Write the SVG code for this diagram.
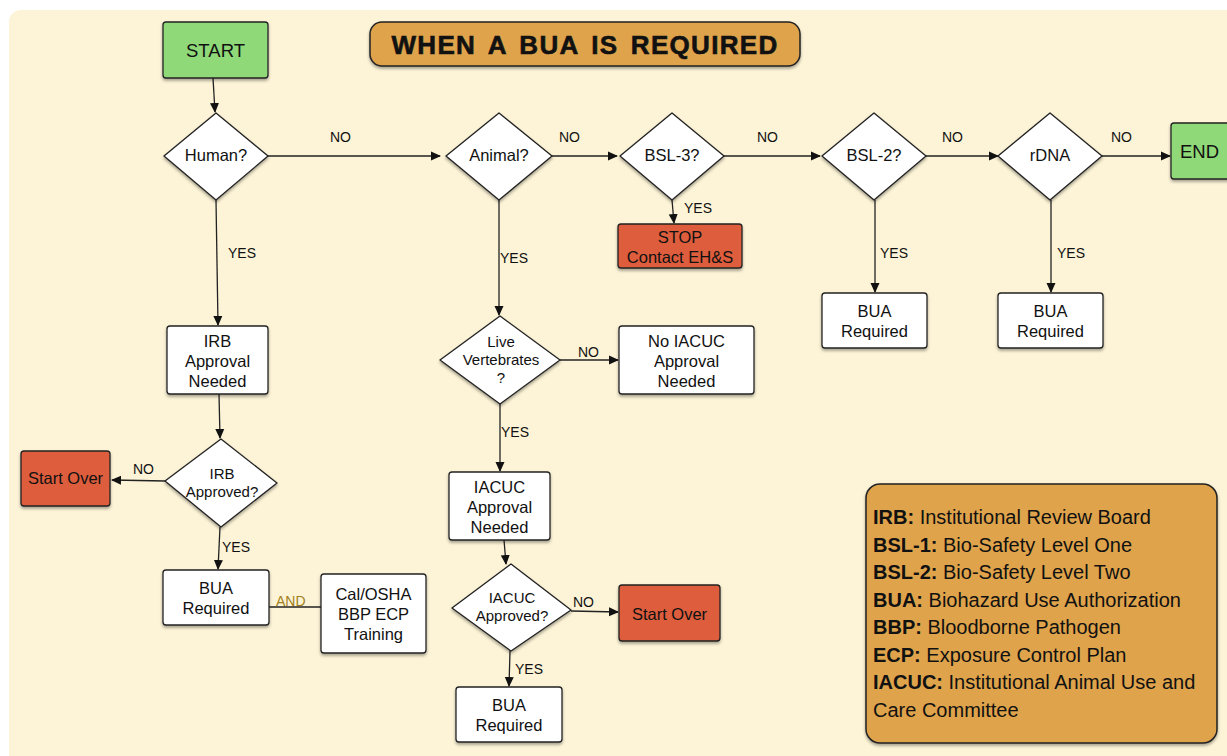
<svg xmlns="http://www.w3.org/2000/svg" width="1227" height="756" viewBox="0 0 1227 756">
<defs>
<marker id="ah" markerWidth="10" markerHeight="10" refX="9" refY="5" orient="auto" markerUnits="userSpaceOnUse">
<path d="M0,0.5 L10,5 L0,9.5 Z" fill="#111"/>
</marker>
<filter id="sh" x="-20%" y="-20%" width="140%" height="150%">
<feDropShadow dx="0" dy="2" stdDeviation="1.8" flood-color="#000" flood-opacity="0.35"/>
</filter>
</defs>
<style>
text{font-family:"Liberation Sans",Arial,sans-serif;fill:#111;}
.n{font-size:16.5px;text-anchor:middle;}
.s{font-size:15px;text-anchor:middle;}
.l{font-size:14px;}
.box{fill:#fff;stroke:#222;stroke-width:1.3;filter:url(#sh);}
.red{fill:#dd5d3d;stroke:#222;stroke-width:1.3;filter:url(#sh);}
.grn{fill:#8fd978;stroke:#222;stroke-width:1.3;filter:url(#sh);}
.org{fill:#dfa34b;stroke:#222;stroke-width:1.5;filter:url(#sh);}
.c{fill:none;stroke:#222;stroke-width:1.3;}
.lg{font-size:20px;}
.lg tspan.b{font-weight:bold;}
</style>
<rect x="0" y="0" width="1227" height="756" fill="#fff"/>
<rect x="9" y="10" width="1240" height="770" rx="12" fill="#fdf4d7"/>

<g id="title"><rect class="org" x="370" y="22" width="430" height="44" rx="12"/><text x="585" y="54" text-anchor="middle" font-weight="bold" font-size="26" letter-spacing="1.3" word-spacing="4" stroke="#111" stroke-width="0.6">WHEN A BUA IS REQUIRED</text></g>

<g id="connectors">
<path class="c" d="M213,78 L215,112" marker-end="url(#ah)"/>
<path class="c" d="M268,156 L440,156" marker-end="url(#ah)"/>
<path class="c" d="M552,156 L617,156" marker-end="url(#ah)"/>
<path class="c" d="M724,156 L820,156" marker-end="url(#ah)"/>
<path class="c" d="M926,156 L998,156" marker-end="url(#ah)"/>
<path class="c" d="M1102,156 L1170,156" marker-end="url(#ah)"/>
<path class="c" d="M672,200 L674,223" marker-end="url(#ah)"/>
<path class="c" d="M875,200 L875,292" marker-end="url(#ah)"/>
<path class="c" d="M1051,200 L1051,292" marker-end="url(#ah)"/>
<path class="c" d="M216,200 L218,325" marker-end="url(#ah)"/>
<path class="c" d="M219,394 L220,438" marker-end="url(#ah)"/>
<path class="c" d="M165,481 L112,480" marker-end="url(#ah)"/>
<path class="c" d="M220,527 L218,569" marker-end="url(#ah)"/>
<path class="c" d="M269,607 L321,607"/>
<path class="c" d="M499,200 L499,315" marker-end="url(#ah)"/>
<path class="c" d="M560,360 L618,360" marker-end="url(#ah)"/>
<path class="c" d="M500,404 L500,471" marker-end="url(#ah)"/>
<path class="c" d="M504,540 L506,564" marker-end="url(#ah)"/>
<path class="c" d="M571,611 L618,612" marker-end="url(#ah)"/>
<path class="c" d="M510,651 L509,686" marker-end="url(#ah)"/>
<text class="l" x="330" y="142">NO</text>
<text class="l" x="559" y="142">NO</text>
<text class="l" x="757" y="142">NO</text>
<text class="l" x="942" y="142">NO</text>
<text class="l" x="1111" y="142">NO</text>
<text class="l" x="684" y="213">YES</text>
<text class="l" x="880" y="258">YES</text>
<text class="l" x="1057" y="258">YES</text>
<text class="l" x="228" y="258">YES</text>
<text class="l" x="500" y="263">YES</text>
<text class="l" x="133" y="474">NO</text>
<text class="l" x="222" y="552">YES</text>
<text class="l" x="276" y="606" style="fill:#a07f1c">AND</text>
<text class="l" x="578" y="357">NO</text>
<text class="l" x="501" y="437">YES</text>
<text class="l" x="573" y="607">NO</text>
<text class="l" x="515" y="674">YES</text>
</g>

<g id="start"><rect class="grn" x="163" y="22" width="105" height="56" rx="3"/><text x="215.5" y="57" text-anchor="middle" font-size="18.5">START</text></g>
<g id="end"><rect class="grn" x="1171" y="123" width="80" height="56" rx="3"/><text x="1180" y="158" font-size="18.5">END</text></g>

<g id="human"><path class="box" d="M216,113 L268,156 L216,200 L164,156 Z" stroke-linejoin="round"/><text class="n" x="216" y="161">Human?</text></g>
<g id="animal"><path class="box" d="M499,113 L552,156 L499,200 L446,156 Z" stroke-linejoin="round"/><text class="n" x="499" y="161">Animal?</text></g>
<g id="bsl3"><path class="box" d="M672,113 L724,156 L672,200 L620,156 Z" stroke-linejoin="round"/><text class="n" x="672" y="161">BSL-3?</text></g>
<g id="bsl2"><path class="box" d="M874,113 L926,156 L874,200 L822,156 Z" stroke-linejoin="round"/><text class="n" x="874" y="161">BSL-2?</text></g>
<g id="rdna"><path class="box" d="M1050,113 L1102,156 L1050,200 L998,156 Z" stroke-linejoin="round"/><text class="n" x="1050" y="161">rDNA</text></g>

<g id="stop"><rect class="red" x="618" y="224" width="124" height="44" rx="3"/><text class="n" x="680" y="243">STOP</text><text class="n" x="680" y="263">Contact EH&amp;S</text></g>
<g id="bua2"><rect class="box" x="822" y="293" width="105" height="55" rx="3"/><text class="n" x="874.5" y="317">BUA</text><text class="n" x="874.5" y="337">Required</text></g>
<g id="bua3"><rect class="box" x="998" y="293" width="105" height="55" rx="3"/><text class="n" x="1050.5" y="317">BUA</text><text class="n" x="1050.5" y="337">Required</text></g>

<g id="irbneeded"><rect class="box" x="167" y="326" width="101" height="68" rx="3"/><text class="n" x="217.5" y="347">IRB</text><text class="n" x="217.5" y="367">Approval</text><text class="n" x="217.5" y="387">Needed</text></g>
<g id="irbapproved"><path class="box" d="M221,439 L277,483 L221,527 L165,481 Z" stroke-linejoin="round"/><text class="s" x="222" y="479">IRB</text><text class="s" x="222" y="497">Approved?</text></g>
<g id="startover1"><rect class="red" x="21" y="451" width="89" height="55" rx="3"/><text class="n" x="65.5" y="484">Start Over</text></g>
<g id="bua1"><rect class="box" x="163" y="570" width="106" height="55" rx="3"/><text class="n" x="216" y="594">BUA</text><text class="n" x="216" y="614">Required</text></g>
<g id="calosha"><rect class="box" x="321" y="574" width="105" height="79" rx="3"/><text class="n" x="373.5" y="600">Cal/OSHA</text><text class="n" x="373.5" y="620">BBP ECP</text><text class="n" x="373.5" y="640">Training</text></g>

<g id="live"><path class="box" d="M500,316 L560,360 L500,404 L440,360 Z" stroke-linejoin="round"/><text class="s" x="501" y="347">Live</text><text class="s" x="501" y="365">Vertebrates</text><text class="s" x="501" y="383">?</text></g>
<g id="noiacuc"><rect class="box" x="619" y="326" width="135" height="68" rx="3"/><text class="n" x="686.5" y="347">No IACUC</text><text class="n" x="686.5" y="367">Approval</text><text class="n" x="686.5" y="387">Needed</text></g>
<g id="iacucneeded"><rect class="box" x="449" y="472" width="101" height="68" rx="3"/><text class="n" x="499.5" y="493">IACUC</text><text class="n" x="499.5" y="513">Approval</text><text class="n" x="499.5" y="533">Needed</text></g>
<g id="iacucapproved"><path class="box" d="M511,564 L571,610 L511,651 L452,608 Z" stroke-linejoin="round"/><text class="s" x="512" y="603">IACUC</text><text class="s" x="512" y="621">Approved?</text></g>
<g id="startover2"><rect class="red" x="619" y="585" width="101" height="56" rx="3"/><text class="n" x="669.5" y="620">Start Over</text></g>
<g id="bua4"><rect class="box" x="456" y="687" width="106" height="55" rx="3"/><text class="n" x="509" y="711">BUA</text><text class="n" x="509" y="731">Required</text></g>

<g id="legend"><rect class="org" x="866" y="484" width="351" height="259" rx="14"/>
<text class="lg" x="873" y="524"><tspan class="b">IRB:</tspan> Institutional Review Board</text>
<text class="lg" x="873" y="552"><tspan class="b">BSL-1:</tspan> Bio-Safety Level One</text>
<text class="lg" x="873" y="579"><tspan class="b">BSL-2:</tspan> Bio-Safety Level Two</text>
<text class="lg" x="873" y="607"><tspan class="b">BUA:</tspan> Biohazard Use Authorization</text>
<text class="lg" x="873" y="634"><tspan class="b">BBP:</tspan> Bloodborne Pathogen</text>
<text class="lg" x="873" y="662"><tspan class="b">ECP:</tspan> Exposure Control Plan</text>
<text class="lg" x="873" y="689"><tspan class="b">IACUC:</tspan> Institutional Animal Use and</text>
<text class="lg" x="873" y="717">Care Committee</text>
</g>
</svg>
